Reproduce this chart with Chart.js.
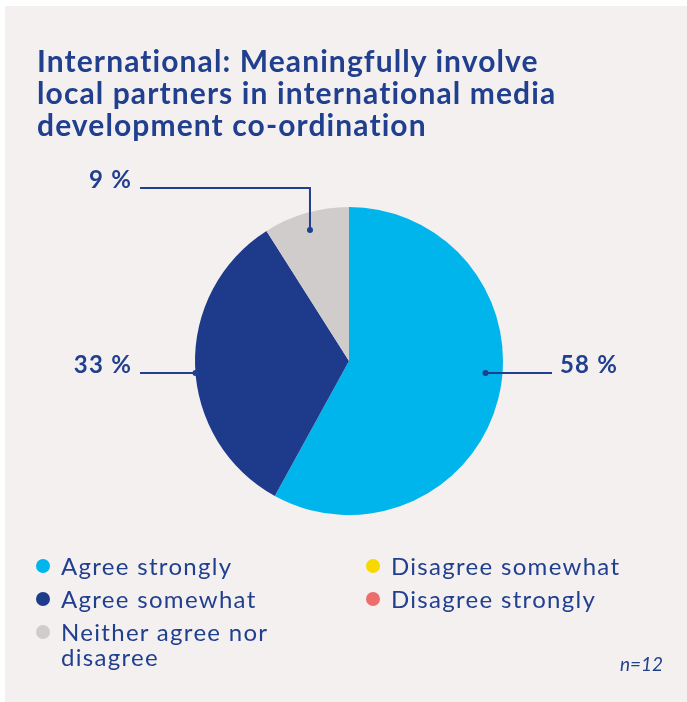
<!DOCTYPE html>
<html lang="en">
<head>
  <meta charset="UTF-8">
  <title>International: Meaningfully involve local partners</title>
  <script src="https://cdn.jsdelivr.net/npm/chart.js"></script>
  <style>
    html, body {
      margin: 0;
      padding: 0;
      background: #ffffff;
    }
    #panel {
      position: absolute;
      left: 5px;
      top: 6px;
      width: 682px;
      height: 696px;
      background: #f4f0ef;
    }
    #pieCanvas {
      position: absolute;
      left: 0;
      top: 0;
    }
    h1 {
      position: absolute;
      left: 37px;
      top: 44px;
      margin: 0;
      font-family: Lato, sans-serif;
      font-weight: 700;
      font-size: 30px;
      letter-spacing: 1.1px;
      line-height: 32px;
      color: #213f8f;
    }
    #legend {
      position: absolute;
      left: 35px;
      top: 553px;
      width: 620px;
      font-family: Lato, sans-serif;
      font-size: 24px;
      letter-spacing: 1.3px;
      color: #213f8f;
    }
    .item {
      position: absolute;
      width: 270px;
      line-height: 25px;
      padding-left: 26px;
    }
    .item span {
      position: absolute;
      left: 1px;
      top: 6px;
      width: 14px;
      height: 14px;
      border-radius: 50%;
    }
    #note {
      position: absolute;
      left: 620px;
      top: 652px;
      font-family: Lato, sans-serif;
      font-style: italic;
      font-size: 19px;
      color: #213f8f;
    }
  </style>
</head>
<body>
  <div id="panel"></div>
  <canvas id="pieCanvas" width="687" height="702"></canvas>
  <h1>International: Meaningfully involve<br>local partners in international media<br>development co-ordination</h1>
  <div id="legend"></div>
  <div id="note">n=12</div>

  <script>
    // answer categories and share of respondents (%)
    const categories = ['Agree strongly', 'Agree somewhat', 'Neither agree nor disagree', 'Disagree somewhat', 'Disagree strongly'];
    const shares = [58, 33, 9, 0, 0];
    const colours = ['#00b5ec', '#1e3b8b', '#d0cccb', '#f7d800', '#ec6d6b'];

    const ink = '#213f8f';

    // legend: two columns, first three items on the left
    const legend = document.getElementById('legend');
    const slots = [[0, 0], [0, 33], [0, 66], [330, 0], [330, 33]];
    categories.forEach((name, i) => {
      const el = document.createElement('div');
      el.className = 'item';
      el.style.left = slots[i][0] + 'px';
      el.style.top = slots[i][1] + 'px';
      el.innerHTML = `<span style="background:${colours[i]}"></span>${name}`;
      legend.appendChild(el);
    });

    // leader lines with a dot inside the slice and the percentage at the end
    const callouts = {
      id: 'callouts',
      afterDatasetsDraw(chart, args, opts) {
        const ctx = chart.ctx;
        const arcs = chart.getDatasetMeta(0).data;
        ctx.save();
        ctx.strokeStyle = ink;
        ctx.fillStyle = ink;
        ctx.lineWidth = 2;
        opts.items.forEach(c => {
          const arc = arcs[c.index];
          const a = c.angle * Math.PI / 180;
          const r = arc.outerRadius * c.depth;
          const dx = arc.x + r * Math.sin(a);
          const dy = arc.y - r * Math.cos(a);
          const lineY = c.rise ? arc.y - c.rise : dy;
          const endX = arc.x + c.reach;

          ctx.beginPath();
          ctx.moveTo(dx, dy);
          if (c.rise) ctx.lineTo(dx, lineY);
          ctx.lineTo(endX, lineY);
          ctx.stroke();

          ctx.beginPath();
          ctx.arc(dx, dy, 3, 0, Math.PI * 2);
          ctx.fill();

          ctx.font = 'bold 24px Lato, sans-serif';
          ctx.letterSpacing = '1.2px';
          ctx.textBaseline = 'alphabetic';
          const label = shares[c.index] + ' %';
          if (c.reach > 0) {
            ctx.textAlign = 'left';
            ctx.fillText(label, endX + 8, lineY);
          } else {
            ctx.textAlign = 'right';
            ctx.fillText(label, endX - 8, lineY);
          }
        });
        ctx.restore();
      }
    };

    new Chart(document.getElementById('pieCanvas'), {
      type: 'pie',
      data: {
        labels: categories,
        datasets: [{
          data: shares,
          backgroundColor: colours,
          borderWidth: 0
        }]
      },
      options: {
        responsive: false,
        animation: false,
        layout: {
          padding: { left: 195, top: 207, right: 184, bottom: 187 }
        },
        plugins: {
          legend: { display: false },
          tooltip: { enabled: false },
          callouts: {
            items: [
              { index: 0, angle: 95, depth: 0.89, reach: 203 },
              { index: 1, angle: 265.5, depth: 1.0, reach: -209 },
              { index: 2, angle: 343.4, depth: 0.887, rise: 173, reach: -209 }
            ]
          }
        }
      },
      plugins: [callouts]
    });
  </script>
</body>
</html>
